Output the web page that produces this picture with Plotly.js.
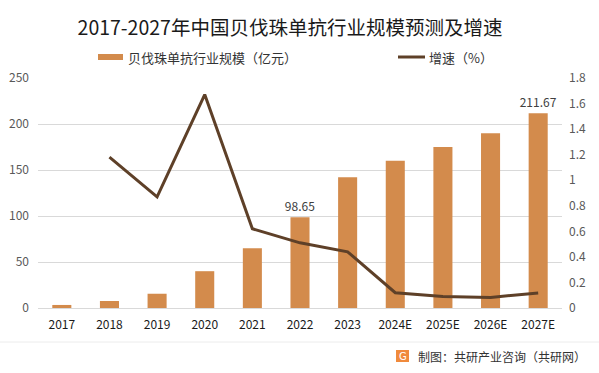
<!DOCTYPE html>
<html>
<head>
<meta charset="utf-8">
<script src="https://cdn.plot.ly/plotly-3.0.1.min.js"></script>
<style>html,body{margin:0;padding:0;background:#fff;}#chart{width:599px;height:373px;}</style>
</head>
<body>
<div id="chart"></div>
<script>
const categories = ["2017","2018","2019","2020","2021","2022","2023","2024E","2025E","2026E","2027E"];
const marketSize = [3.3, 7.6, 15.5, 40, 65, 98.65, 142, 160, 175, 190, 211.67];
const growthRate = [null, 1.18, 0.87, 1.67, 0.62, 0.51, 0.44, 0.12, 0.09, 0.083, 0.117];
const barLabels = ["", "", "", "", "", "98.65", "", "", "", "", "211.67"];
const leftTicks = [0, 50, 100, 150, 200, 250];
const rightTicks = [0, 0.2, 0.4, 0.6, 0.8, 1, 1.2, 1.4, 1.6, 1.8];
const seriesNames = ["贝伐珠单抗行业规模（亿元）", "增速（%）"];

const font = "'Noto Sans CJK SC', 'Noto Sans', sans-serif";
const PL = 38, PW = 524, PT = 78, PH = 230;
const px = v => (v - PL) / PW;
const py = v => (PT + PH - v) / PH;

const traces = [
  {
    type: "bar", x: categories, y: marketSize, name: seriesNames[0],
    marker: {color: "#d38b4c"},
    text: barLabels, textposition: "outside", cliponaxis: false, constraintext: "none",
    textfont: {size: 12, color: "#404040", family: font},
    showlegend: false
  },
  {
    type: "scatter", mode: "lines", x: categories, y: growthRate, name: seriesNames[1],
    yaxis: "y2", line: {color: "#5e4028", width: 3}, connectgaps: false, showlegend: false
  }
];

const layout = {
  width: 599, height: 373,
  margin: {l: PL, r: 599 - PL - PW, t: PT, b: 373 - PT - PH},
  paper_bgcolor: "#ffffff", plot_bgcolor: "#ffffff",
  font: {family: font, color: "#595959", size: 12},
  title: {text: "2017-2027年中国贝伐珠单抗行业规模预测及增速", xref: "paper", x: px(290), xanchor: "center",
          yref: "container", y: 1 - 28/373, yanchor: "middle",
          font: {size: 19.5, color: "#1a1a1a", family: font}},
  bargap: 0.6,
  showlegend: false,
  xaxis: {type: "category", tickfont: {size: 12, color: "#1a1a1a"}, showline: true, linecolor: "#d9d9d9",
          ticks: "", showgrid: false, fixedrange: true, ticklabelstandoff: 6},
  yaxis: {range: [0, 250], tickvals: leftTicks, showgrid: true, gridcolor: "#d9d9d9", gridwidth: 1,
          zeroline: false, ticks: "", tickfont: {size: 12, color: "#595959"}, fixedrange: true, ticklabelstandoff: 8},
  yaxis2: {range: [0, 1.8], tickvals: rightTicks, overlaying: "y", side: "right", showgrid: false,
           zeroline: false, ticks: "", tickfont: {size: 12, color: "#595959"}, fixedrange: true, ticklabelstandoff: 6},
  shapes: [
    {type: "line", xref: "paper", yref: "paper", x0: px(0), x1: px(599), y0: py(342), y1: py(342),
     line: {color: "#ececec", width: 1}},
    {type: "rect", xref: "paper", yref: "paper", x0: px(396), x1: px(409),
     y0: py(362), y1: py(350), fillcolor: "#f08a3c", line: {width: 0}},
    {type: "rect", xref: "paper", yref: "paper", x0: px(98), x1: px(123),
     y0: py(60), y1: py(54), fillcolor: "#d38b4c", line: {width: 0}},
    {type: "line", xref: "paper", yref: "paper", x0: px(398), x1: px(425),
     y0: py(57), y1: py(57), line: {color: "#5e4028", width: 3}}
  ],
  annotations: [
    {text: seriesNames[0], xref: "paper", yref: "paper", x: px(126), y: py(57),
     xanchor: "left", yanchor: "middle", showarrow: false, font: {size: 13, color: "#333333", family: font}},
    {text: seriesNames[1], xref: "paper", yref: "paper", x: px(427), y: py(57),
     xanchor: "left", yanchor: "middle", showarrow: false, font: {size: 13, color: "#333333", family: font}},
    {text: "制图：共研产业咨询（共研网）", xref: "paper", yref: "paper", x: px(416), y: py(356),
     xanchor: "left", yanchor: "middle", showarrow: false, font: {size: 12, color: "#333333", family: font}},
    {text: "G", xref: "paper", yref: "paper", x: px(402.5), y: py(356), xanchor: "center", yanchor: "middle",
     showarrow: false, font: {size: 10, color: "#ffffff", family: "DejaVu Sans"}}
  ]
};

Plotly.newPlot("chart", traces, layout, {displayModeBar: false, staticPlot: true});
</script>
</body>
</html>
